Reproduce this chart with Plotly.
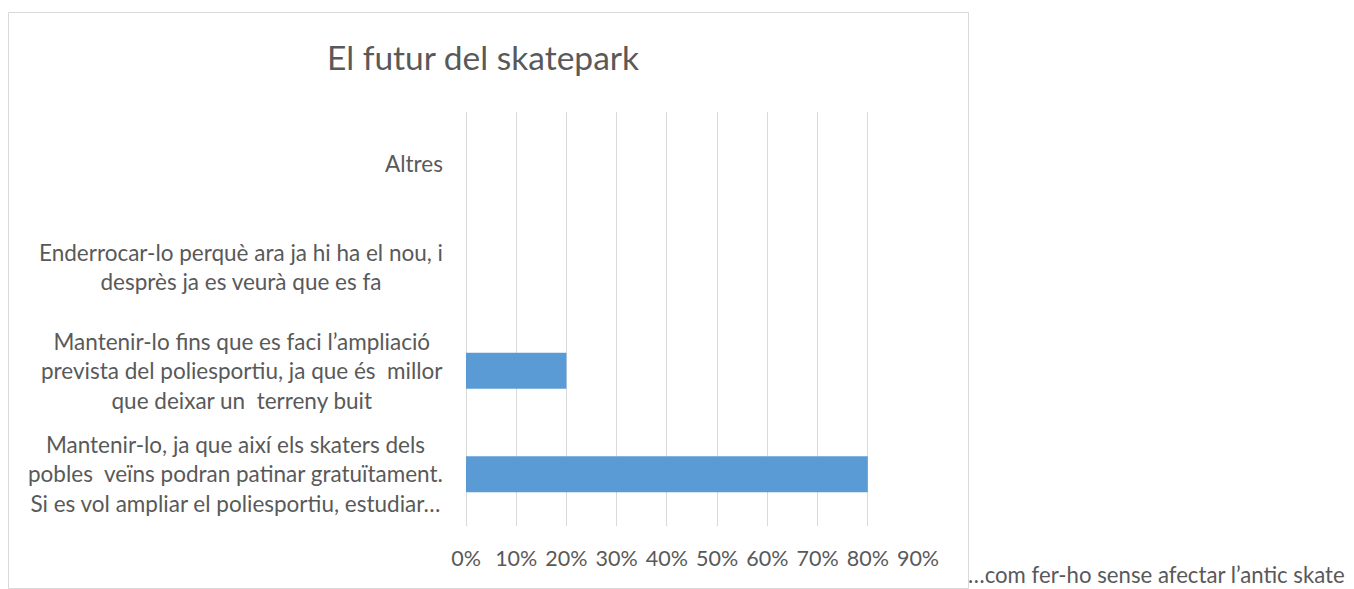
import plotly.graph_objects as go

# ---- data ----
categories = [
    "Mantenir-lo, ja que així els skaters dels<br>pobles  veïns podran patinar gratuïtament.<br>Si es vol ampliar el poliesportiu, estudiar…",
    "Mantenir-lo fins que es faci l’ampliació<br>prevista del poliesportiu, ja que és  millor<br>que deixar un  terreny buit",
    "Enderrocar-lo perquè ara ja hi ha el nou, i<br>desprès ja es veurà que es fa",
    "Altres",
]
values = [0.80, 0.20, 0.0, 0.0]
tick_values = [0, 0.1, 0.2, 0.3, 0.4, 0.5, 0.6, 0.7, 0.8, 0.9]
title_text = "El futur del skatepark"
overflow_text = "…com fer-ho sense afectar l’antic skate"

W, H = 1354, 589
L, R, T, B = 466, 918, 112, 526
FONT = "Lato"
GRAY = "#595959"

def px(x):
    return (x - L) / (R - L)

def py(y):
    return (B - y) / (B - T)

fig = go.Figure(go.Bar(
    x=values, y=list(range(len(categories))), orientation="h",
    marker=dict(color="#5B9BD5", line=dict(width=0)),
    hoverinfo="x",
))

annotations = []
for i, c in enumerate(categories):
    annotations.append(dict(
        text=c, xref="paper", x=px(445), xanchor="right",
        yref="y", y=i, yanchor="middle", align="center",
        showarrow=False, font=dict(family=FONT, size=22.5, color=GRAY),
    ))
annotations.append(dict(
    text=title_text, xref="paper", x=px(483), xanchor="center",
    yref="paper", y=py(57), yanchor="middle", showarrow=False,
    font=dict(family=FONT, size=33.5, color=GRAY),
))
annotations.append(dict(
    text=overflow_text, xref="paper", x=px(967), xanchor="left",
    yref="paper", y=py(588.5), yanchor="bottom", showarrow=False,
    borderpad=0, font=dict(family=FONT, size=22.2, color=GRAY),
))

fig.update_layout(
    width=W, height=H,
    margin=dict(l=L, r=W - R, t=T, b=H - B, autoexpand=False),
    paper_bgcolor="white", plot_bgcolor="white",
    showlegend=False, bargap=0.652,
    xaxis=dict(
        range=[0, 0.9], tickvals=tick_values, tickformat=".0%",
        showgrid=True, gridcolor="#D9D9D9", gridwidth=1,
        zeroline=True, zerolinecolor="#D9D9D9", zerolinewidth=1,
        showline=False, ticks="", ticklabelstandoff=17,
        tickfont=dict(family=FONT, size=21.5, color=GRAY),
        fixedrange=True, automargin=False,
    ),
    yaxis=dict(
        range=[-0.5, len(categories) - 0.5], showticklabels=False,
        showgrid=False, zeroline=False, showline=False, ticks="",
        fixedrange=True, automargin=False,
    ),
    annotations=annotations,
    shapes=[dict(
        type="rect", xref="paper", yref="paper",
        x0=px(8.5), x1=px(968.5), y0=py(12.5), y1=py(588.5),
        line=dict(color="#D9D9D9", width=1), fillcolor="rgba(0,0,0,0)",
        layer="below",
    )],
)

fig.write_html(
    "out.html",
    config={"displayModeBar": False},
    post_script="document.body.style.margin='0';document.body.style.overflow='hidden';",
)
